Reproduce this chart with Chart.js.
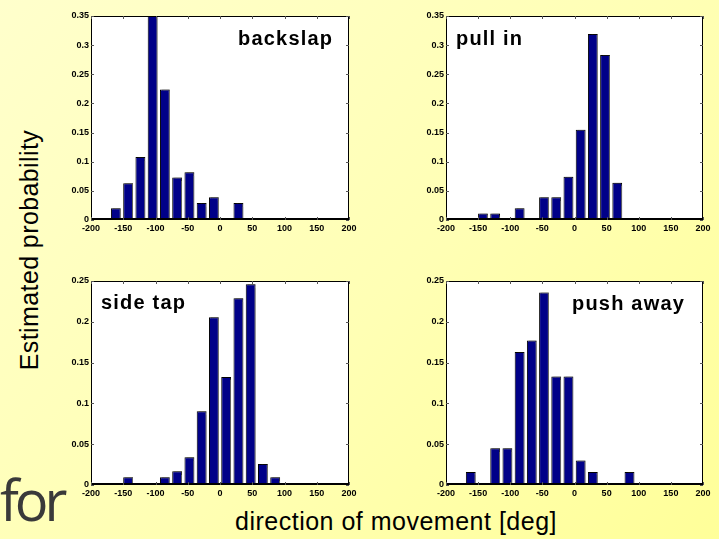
<!DOCTYPE html>
<html>
<head>
<meta charset="utf-8">
<script src="https://cdn.jsdelivr.net/npm/chart.js@4"></script>
<style>
  html, body { margin: 0; padding: 0; }
  body {
    width: 719px; height: 539px; position: relative; overflow: hidden;
    background: linear-gradient(135deg, #ffffcc 0%, #ffffb4 55%, #ffff99 100%);
    font-family: Arial, "Liberation Sans", sans-serif;
  }
  canvas { position: absolute; }
  .tag { position: absolute; font-weight: bold; font-size: 20px; letter-spacing: 1.2px; line-height: 1; color: #000; white-space: nowrap; }
  #ylab { position: absolute; left: 29px; top: 250px; font-size: 25px; letter-spacing: 0.4px; line-height: 1; white-space: nowrap;
          transform: translate(-50%, -50%) rotate(-90deg); color: #000; }
  #xlab { position: absolute; left: 235px; top: 509px; font-size: 25px; letter-spacing: 0.5px; line-height: 1; white-space: nowrap; color: #000; }
  #for { position: absolute; left: 0px; top: 471px; font-family: "Open Sans", sans-serif; font-size: 56px;
         letter-spacing: -4px; line-height: 1; color: #3a3a3a; }
</style>
</head>
<body>
<canvas id="c1" width="300" height="228"></canvas>
<canvas id="c2" width="299" height="228"></canvas>
<canvas id="c3" width="300" height="228"></canvas>
<canvas id="c4" width="299" height="228"></canvas>

<div class="tag" style="left:238px; top:28px;">backslap</div>
<div class="tag" style="left:456px; top:28px;">pull in</div>
<div class="tag" style="left:101px; top:292px;">side tap</div>
<div class="tag" style="left:572px; top:293px;">push away</div>

<div id="ylab">Estimated probability</div>
<div id="xlab">direction of movement [deg]</div>
<div id="for">for</div>

<script>
// histogram bin centres (deg)
const centers = [-180.5, -161.5, -142.5, -123.5, -104.5, -85.5, -66.5, -47.5, -28.5, -9.5,
                 9.5, 28.5, 47.5, 66.5, 85.5, 104.5, 123.5, 142.5, 161.5, 180.5];

const backslap = [0, 0.020, 0.063, 0.108, 0.35, 0.224, 0.073, 0.082, 0.029, 0.039,
                  0, 0.029, 0, 0, 0, 0, 0, 0, 0, 0];
const pullIn   = [0, 0, 0.011, 0.011, 0, 0.020, 0, 0.039, 0.039, 0.074,
                  0.155, 0.319, 0.283, 0.064, 0, 0, 0, 0, 0, 0];
const sideTap  = [0, 0, 0.0094, 0, 0, 0.0094, 0.0167, 0.034, 0.0905, 0.2055,
                  0.1325, 0.229, 0.246, 0.0257, 0.0094, 0, 0, 0, 0, 0];
const pushAway = [0, 0.016, 0, 0.045, 0.045, 0.163, 0.177, 0.236, 0.133, 0.133,
                  0.030, 0.016, 0, 0, 0.016, 0, 0, 0, 0, 0];

const xTicks = [-200, -150, -100, -50, 0, 50, 100, 150, 200];
const yTicksTop = [0, 0.05, 0.1, 0.15, 0.2, 0.25, 0.3, 0.35];
const yTicksBottom = [0, 0.05, 0.1, 0.15, 0.2, 0.25];

// white plot box, black frame and inward ticks like matlab
const framePlugin = {
  id: 'frame',
  beforeDraw(chart) {
    const a = chart.chartArea, ctx = chart.ctx;
    ctx.save();
    ctx.fillStyle = '#fff';
    ctx.fillRect(a.left, a.top, a.right - a.left, a.bottom - a.top);
    ctx.restore();
  },
  beforeDatasetsDraw(chart) {
    const ctx = chart.ctx;
    ctx.save();
    ctx.shadowColor = 'rgba(120,120,120,0.8)';
    ctx.shadowOffsetX = 2;
    ctx.shadowOffsetY = 0;
    ctx.shadowBlur = 1;
  },
  afterDatasetsDraw(chart) {
    chart.ctx.restore();
  },
  afterDraw(chart) {
    const a = chart.chartArea, ctx = chart.ctx;
    const xs = chart.scales.x, ys = chart.scales.y;
    ctx.save();
    ctx.strokeStyle = '#000';
    ctx.lineWidth = 1;
    ctx.strokeRect(a.left + 0.5, a.top + 0.5, a.right - a.left - 1, a.bottom - a.top - 1);
    ctx.fillStyle = '#000';
    ctx.fillRect(a.left, a.bottom - 2, a.right - a.left, 2);
    ctx.strokeStyle = '#555';
    ctx.beginPath();
    xs.ticks.forEach(t => {
      const px = Math.round(xs.getPixelForValue(t.value)) + 0.5;
      ctx.moveTo(px, a.top); ctx.lineTo(px, a.top + 3);
      ctx.moveTo(px, a.bottom); ctx.lineTo(px, a.bottom - 3);
    });
    ys.ticks.forEach(t => {
      const py = Math.round(ys.getPixelForValue(t.value)) + 0.5;
      ctx.moveTo(a.left, py); ctx.lineTo(a.left + 3, py);
      ctx.moveTo(a.right, py); ctx.lineTo(a.right - 3, py);
    });
    ctx.stroke();
    ctx.restore();
  }
};

const tickFont = { family: 'Arial', size: 9, weight: 'bold' };

function makePanel(id, left, top, values, yTicks) {
  const canvas = document.getElementById(id);
  canvas.style.left = left + 'px';
  canvas.style.top = top + 'px';
  new Chart(canvas.getContext('2d'), {
    type: 'bar',
    data: {
      datasets: [{
        data: centers.map((c, i) => ({ x: c, y: values[i] })),
        backgroundColor: '#000088',
        borderColor: '#000',
        borderWidth: 1,
        borderSkipped: 'start',
        barPercentage: 0.8,
        categoryPercentage: 1.0
      }]
    },
    options: {
      responsive: false,
      animation: false,
      devicePixelRatio: 1,
      layout: { padding: { top: 8, right: 12, left: 0, bottom: 0 } },
      plugins: { legend: { display: false }, tooltip: { enabled: false } },
      scales: {
        x: {
          type: 'linear', min: -200, max: 200, offset: false,
          afterBuildTicks: s => { s.ticks = xTicks.map(v => ({ value: v })); },
          afterFit: s => { s.height = 16; },
          grid: { display: false, drawTicks: false }, border: { display: false },
          ticks: { font: tickFont, color: '#000', padding: 3, maxRotation: 0, autoSkip: false,
                   callback: v => String(v) }
        },
        y: {
          min: 0, max: yTicks[yTicks.length - 1],
          afterBuildTicks: s => { s.ticks = yTicks.map(v => ({ value: v })); },
          afterFit: s => { s.width = 30; },
          grid: { display: false, drawTicks: false }, border: { display: false },
          ticks: { font: tickFont, color: '#000', padding: 2,
                   callback: v => String(+v.toFixed(2)) }
        }
      }
    },
    plugins: [framePlugin]
  });
}

makePanel('c1', 61, 8, backslap, yTicksTop);
makePanel('c2', 416, 8, pullIn, yTicksTop);
makePanel('c3', 61, 273, sideTap, yTicksBottom);
makePanel('c4', 416, 273, pushAway, yTicksBottom);
</script>
</body>
</html>
